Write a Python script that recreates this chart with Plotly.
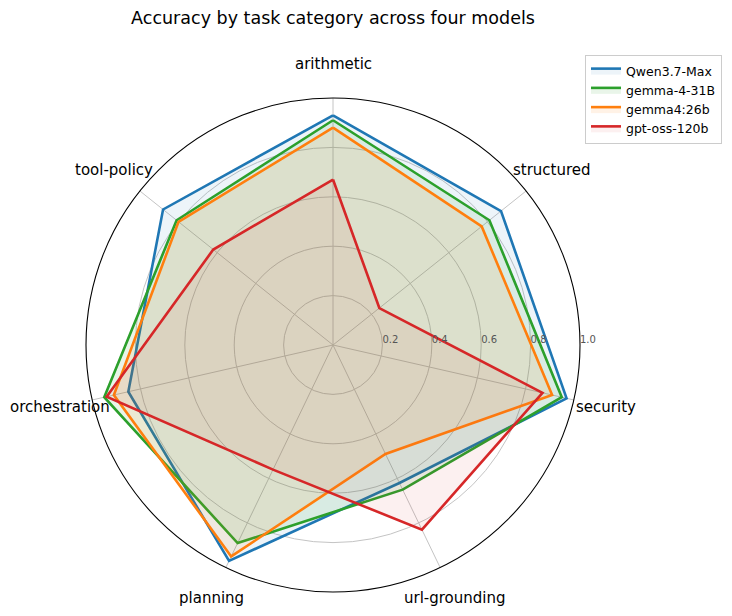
import math
import plotly.graph_objects as go

categories = ["arithmetic", "structured", "security", "url-grounding",
              "planning", "orchestration", "tool-policy"]

qwen = [0.93, 0.87, 0.97, 0.62, 0.97, 0.85, 0.88]
gemma31 = [0.91, 0.81, 0.95, 0.65, 0.89, 0.95, 0.81]
gemma26 = [0.88, 0.77, 0.91, 0.49, 0.95, 0.91, 0.80]
gptoss = [0.67, 0.24, 0.87, 0.83, 0.56, 0.94, 0.62]

series = [
    ("Qwen3.7-Max", qwen, "#1f77b4", "rgba(31,119,180,0.08)"),
    ("gemma-4-31B", gemma31, "#2ca02c", "rgba(44,160,44,0.10)"),
    ("gemma4:26b", gemma26, "#ff7f0e", "rgba(255,127,14,0.10)"),
    ("gpt-oss-120b", gptoss, "#d62728", "rgba(214,39,40,0.07)"),
]

radial_ticks = [0.2, 0.4, 0.6, 0.8, 1.0]
radial_ticktext = ["0.2", "0.4", "0.6", "0.8", "1.0"]

# page body has an 8px margin, so figure coordinates are offset by 8px
OFF = 8
W, H = 716, 600
cx, cy, R = 333 - OFF, 345 - OFF, 247
LABEL_R = 280.5
PAD = "\u00a0" * 5  # shifts radial labels so they start at their ring

fig = go.Figure()
for name, vals, col, fill in series:
    fig.add_trace(go.Scatterpolar(
        r=vals + vals[:1],
        theta=categories + categories[:1],
        mode="lines",
        name=name,
        line=dict(color=col, width=2.6),
        fill="toself",
        fillcolor=fill,
    ))

n = len(categories)
annotations = []
for i, cat in enumerate(categories):
    ang = math.radians(90 - i * 360 / n)
    px = cx + LABEL_R * math.cos(ang)
    py = cy - LABEL_R * math.sin(ang)
    annotations.append(dict(
        text=cat, x=px / W, y=1 - py / H, xref="paper", yref="paper",
        xanchor="center", yanchor="middle", showarrow=False,
        font=dict(family="DejaVu Sans", size=15, color="#000000"),
    ))

fig.update_layout(
    width=W, height=H,
    margin=dict(l=0, r=0, t=0, b=0),
    paper_bgcolor="white",
    font=dict(family="DejaVu Sans", color="#000000"),
    title=dict(
        text="Accuracy by task category across four models",
        x=cx / W, xanchor="center",
        y=1 - (18 - OFF) / H, yanchor="middle",
        font=dict(size=17.5, family="DejaVu Sans", color="#000000"),
    ),
    annotations=annotations,
    polar=dict(
        domain=dict(x=[(cx - R) / W, (cx + R) / W],
                    y=[(H - cy - R) / H, (H - cy + R) / H]),
        bgcolor="white",
        angularaxis=dict(
            rotation=90, direction="clockwise",
            showticklabels=False, ticks="",
            showgrid=True, gridcolor="#c4c4c4", gridwidth=1,
            showline=True, linecolor="#000000", linewidth=1.1,
        ),
        radialaxis=dict(
            range=[0, 1], angle=0, tickangle=0,
            tickvals=radial_ticks,
            ticktext=[PAD + t for t in radial_ticktext],
            tickfont=dict(size=10, color="#555555", family="DejaVu Sans"),
            showline=False, ticks="",
            showgrid=True, gridcolor="#c4c4c4", gridwidth=1,
            side="counterclockwise",
        ),
    ),
    legend=dict(
        x=(722 - OFF) / W, xanchor="right", y=1 - (55 - OFF) / H, yanchor="top",
        bgcolor="white", bordercolor="#cccccc", borderwidth=1,
        font=dict(size=12.5, family="DejaVu Sans", color="#000000"),
        tracegroupgap=0,
    ),
)

fig.write_html("out.html")
